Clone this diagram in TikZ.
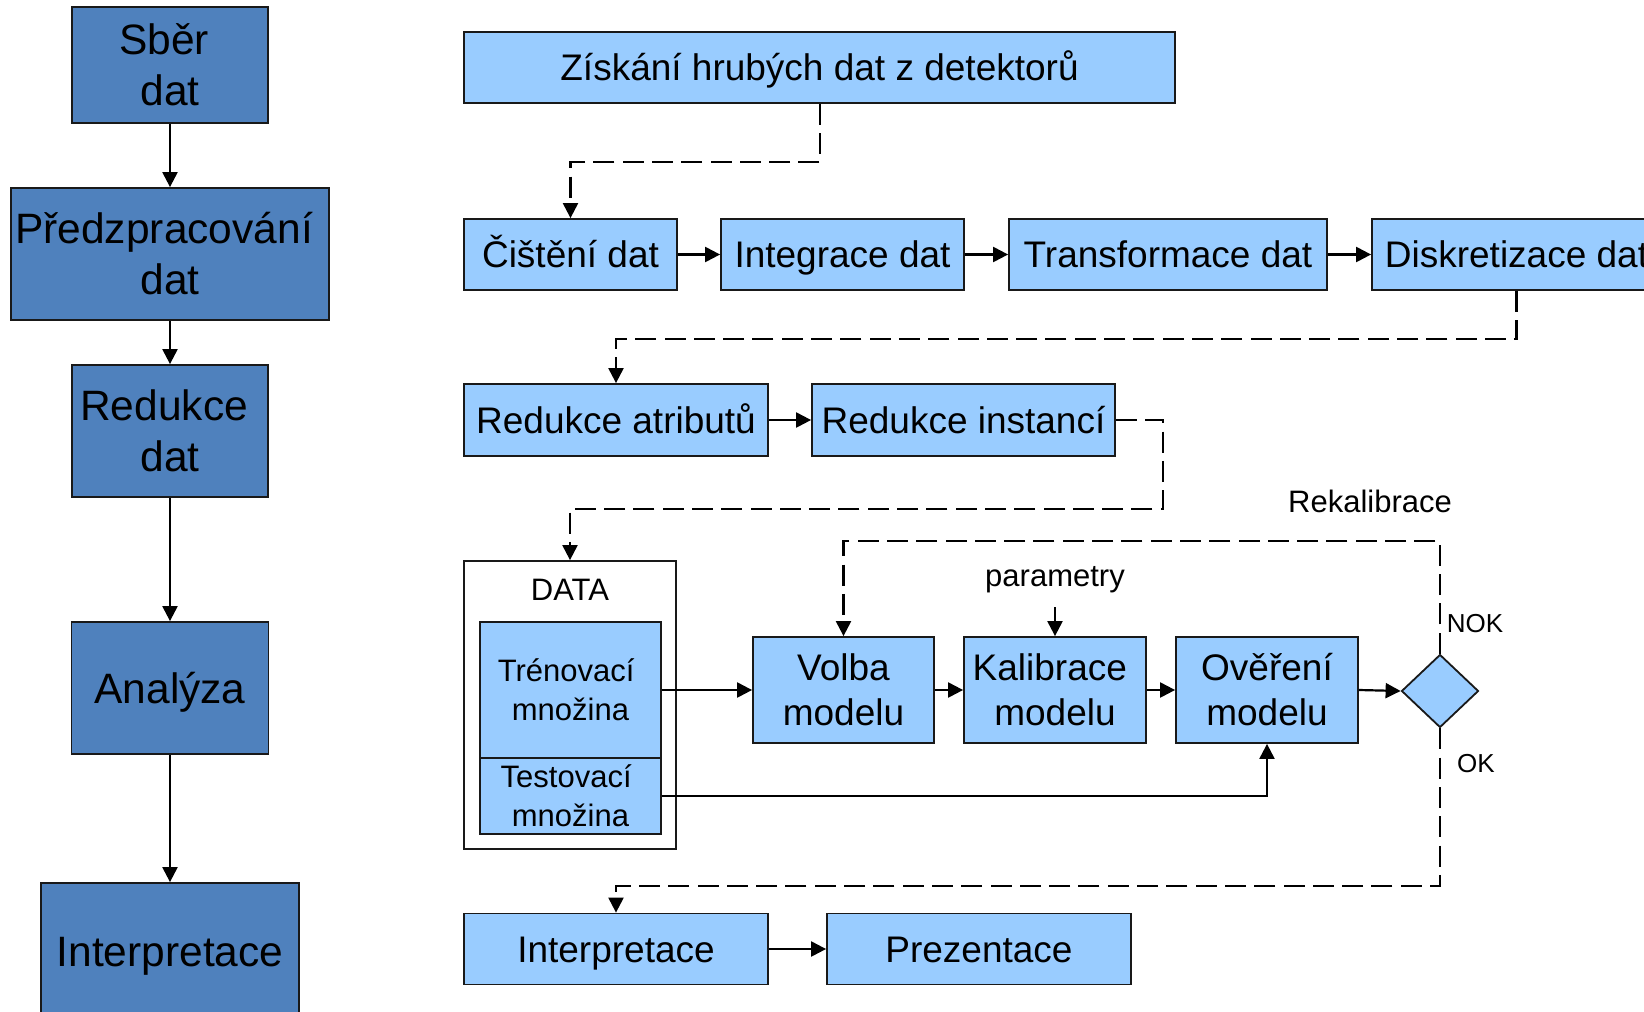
\documentclass[tikz,border=0pt]{standalone}
\usepackage{fontspec}
\setmainfont{Liberation Sans}
\usetikzlibrary{arrows.meta,shapes.geometric,calc}
\definecolor{darkblue}{RGB}{79,129,189}
\definecolor{lightblue}{RGB}{153,204,255}
\definecolor{edge}{RGB}{25,25,25}
\tikzset{
  dk/.style={draw=edge, line width=1.8pt, fill=darkblue, inner sep=0pt, align=center, font=\fontsize{42.5}{51}\selectfont},
  lt/.style={draw=edge, line width=1.8pt, fill=lightblue, inner sep=0pt, align=center, font=\fontsize{37}{45}\selectfont},
  onebig/.style={text height=30.4pt, text depth=0pt},
  one/.style={text height=26.5pt, text depth=0pt},
  sm/.style={inner sep=0pt, align=center, font=\fontsize{31}{39}\selectfont},
  tiny/.style={inner sep=0pt, font=\fontsize{26}{31}\selectfont},
  arr/.style={line width=2.2pt, draw=black, -{Triangle[length=15pt,width=15pt]}},
  dsh/.style={arr, dash pattern=on 21pt off 8.3pt},
}
\newcommand{\tsp}{\hspace*{0.28em}}
\begin{document}
\begin{tikzpicture}[x=1pt,y=-1pt]
\useasboundingbox (0,0) rectangle (1644,1012);
\fill[white] (0,0) rectangle (1644,1012);

% left column
\node[dk, minimum width=196pt, minimum height=116pt] (sber) at (170,65) {Sběr\tsp\\dat};
\node[dk, minimum width=318pt, minimum height=132pt] (pred) at (170,254) {Předzpracování\tsp\\dat};
\node[dk, minimum width=196pt, minimum height=132pt] (redd) at (170,431) {Redukce\tsp\\dat};
\node[dk, onebig, minimum width=197pt, minimum height=132pt] (anal) at (170,688) {Analýza};
\node[dk, onebig, minimum width=258pt, minimum height=137pt] (interL) at (170,951.5) {Interpretace};

\draw[arr] (sber) -- (pred);
\draw[arr] (pred) -- (redd);
\draw[arr] (redd) -- (anal);
\draw[arr] (anal) -- (interL);

% right part
\node[lt, one, minimum width=711pt, minimum height=71pt] (zisk) at (819.5,67.5) {Získání hrubých dat z detektorů};
\node[lt, one, minimum width=213pt, minimum height=71pt] (cist) at (570.5,254.5) {Čištění dat};
\node[lt, one, minimum width=243pt, minimum height=71pt] (integ) at (842.5,254.5) {Integrace dat};
\node[lt, one, minimum width=318pt, minimum height=71pt] (transf) at (1168,254.5) {Transformace dat};
\node[lt, one, minimum width=289pt, minimum height=71pt] (disk) at (1516.5,254.5) {Diskretizace dat};
\node[lt, one, minimum width=304pt, minimum height=72pt] (redA) at (616,420) {Redukce atributů};
\node[lt, one, minimum width=303pt, minimum height=72pt] (redI) at (963.5,420) {Redukce instancí};

\node[draw=edge, line width=1.8pt, fill=white, minimum width=212pt, minimum height=288pt, inner sep=0pt] (data) at (570,705) {};
\node[sm] (datalbl) at (570,590) {DATA};
\node[lt, font=\fontsize{31}{39}\selectfont, minimum width=181pt, minimum height=136pt] (tren) at (570.5,690) {Trénovací\tsp\\množina};
\node[lt, font=\fontsize{31}{39}\selectfont, minimum width=181pt, minimum height=76pt] (test) at (570.5,796) {Testovací\tsp\\množina};

\node[lt, minimum width=181pt, minimum height=106pt] (volba) at (843.5,690) {Volba\\modelu};
\node[lt, minimum width=182pt, minimum height=106pt] (kalib) at (1055,690) {Kalibrace\tsp\\modelu};
\node[lt, minimum width=182pt, minimum height=106pt] (over) at (1267,690) {Ověření\\modelu};
\node[diamond, draw=edge, line width=1.8pt, fill=lightblue, inner sep=0pt, minimum width=77pt, minimum height=73pt] (dia) at (1440,691) {};

\node[lt, one, minimum width=304pt, minimum height=71pt] (interR) at (616,949) {Interpretace};
\node[lt, one, minimum width=304pt, minimum height=71pt] (prez) at (979,949) {Prezentace};

\node[sm] (param) at (1055,580) {parametry};
\coordinate (pk) at (1055,607);
\node[sm] (rekal) at (1370,501) {Rekalibrace};
\node[tiny] (nok) at (1475,624) {NOK};
\node[tiny] (ok) at (1476,764) {OK};

% solid arrows
\draw[arr] (cist) -- (integ);
\draw[arr] (integ) -- (transf);
\draw[arr] (transf) -- (disk);
\draw[arr] (redA) -- (redI);
\draw[arr] (tren.east) -- (tren.east -| volba.west);
\draw[arr] (volba) -- (kalib);
\draw[arr] (kalib) -- (over);
\draw[arr] (over.east) -- (dia.west);
\draw[arr] (test.east) -| (over.south);
\draw[arr] (interR) -- (prez);
\draw[arr] (pk) -- (kalib.north);

% dashed arrows
\draw[dsh] (zisk.south -| 820,0) -- ++(0,58) -| (cist.north);
\draw[dsh] (disk.south) -- ++(0,48) -| (redA.north);
\draw[dsh] (redI.east) -- ++(47,0) -- ++(0,89) -| (data.north);
\draw[dsh] (dia.north) -- ++(0,-112.5) -| (volba.north);
\draw[dsh] (dia.south) -- ++(0,157.5) -| (interR.north);
\end{tikzpicture}
\end{document}
